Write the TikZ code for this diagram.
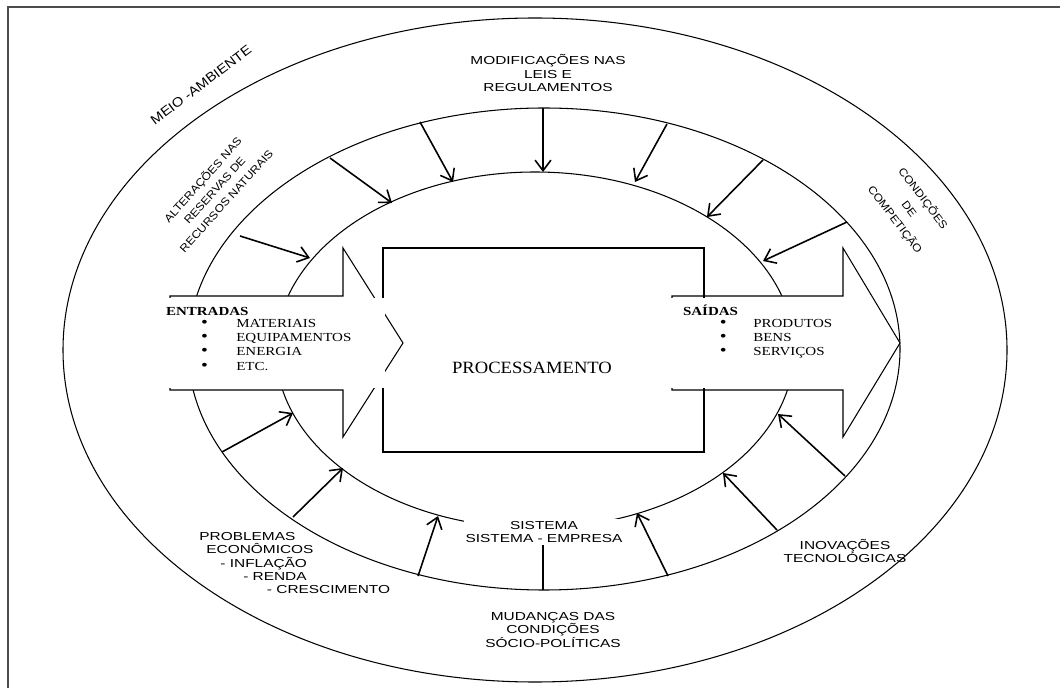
\documentclass[tikz,border=0pt]{standalone}
\usepackage{fontspec}
\newfontfamily\arialx{Liberation Sans}[FakeStretch=1.33]
\newfontfamily\ariale{Liberation Sans}[FakeStretch=1.12]
\newfontfamily\timesx{Liberation Serif}[FakeStretch=1.22]
\newfontfamily\timesb{Liberation Serif}[FakeStretch=1.08]
\usetikzlibrary{arrows.meta}

\begin{document}
\begin{tikzpicture}[x=0.02cm,y=0.02cm,
    ring/.style={line width=0.6pt},
    force/.style={line width=0.9pt,-{Straight Barb[length=6pt,width=9pt]}},
    flow/.style={draw,fill=white,line width=0.6pt},
    tag/.style={font=\arialx\fontsize{6.6}{7.6}\selectfont,align=center,inner sep=0pt},
    slant/.style={font=\ariale\fontsize{6.2}{9}\selectfont,align=center,inner sep=0pt},
    listbox/.style={font=\timesx\fontsize{7}{8.2}\selectfont,fill=white,inner sep=0pt}]

\useasboundingbox (0,0) rectangle (1060,-688);

% page frame (only top and left edge are inside the picture)
\draw[line width=1.1pt,black!70] (1060,-7) -- (8,-7) -- (8,-688);

% environment, system and company rings
\draw[ring] (535,-350) ellipse (472 and 332);
\draw[ring] (544,-349) ellipse (356 and 241);
\draw[ring] (535,-350) ellipse (259 and 178);

% pressures of the environment on the company
\foreach \xa/\ya/\xb/\yb in {240/236/310/258, 330/158/392/203, 420/122/453/182,
    543/108/543/172, 667/124/635/182, 763/160/707/217, 847/222/763/261,
    222/452/293/413, 293/517/343/468, 418/576/438/516, 543/590/543/528,
    668/576/637/513, 777/530/723/473, 845/476/778/414}
  \draw[force] (\xa,-\ya) -- (\xb,-\yb);

% input and output arrows
\draw[flow] (170,-296) -- (343,-296) -- (343,-248) -- (403,-343) -- (343,-437) -- (343,-390) -- (170,-390) -- cycle;
\draw[flow] (672,-296) -- (843,-296) -- (843,-248) -- (900,-343) -- (843,-437) -- (843,-390) -- (672,-390) -- cycle;

% processing box
\draw[ring] (383,-248) rectangle (704,-452);
\node[font=\timesb\fontsize{9.8}{11}\selectfont,inner sep=0pt] (proc) at (532,-368) {PROCESSAMENTO};

% lists of inputs and outputs (white boxes hide the lines under them)
\node[listbox] (entradas) at (275.5,-343) {\parbox[c][1.8cm][t]{4.38cm}{%
  \rule{0pt}{10pt}\textbf{ENTRADAS}\\[-1.6pt]
  \hspace*{20pt}\makebox[20pt][l]{\scalebox{1.3}{\textbullet}}MATERIAIS\\
  \hspace*{20pt}\makebox[20pt][l]{\scalebox{1.3}{\textbullet}}EQUIPAMENTOS\\
  \hspace*{20pt}\makebox[20pt][l]{\scalebox{1.3}{\textbullet}}ENERGIA\\
  \hspace*{20pt}\makebox[20pt][l]{\scalebox{1.3}{\textbullet}}ETC.}};
\node[listbox] (saidas) at (756,-343) {\parbox[c][1.8cm][t]{3.44cm}{%
  \rule{0pt}{10pt}\hspace*{7.4pt}\textbf{SAÍDAS}\\[-1.6pt]
  \hspace*{28.4pt}\makebox[19pt][l]{\scalebox{1.3}{\textbullet}}PRODUTOS\\
  \hspace*{28.4pt}\makebox[19pt][l]{\scalebox{1.3}{\textbullet}}BENS\\
  \hspace*{28.4pt}\makebox[19pt][l]{\scalebox{1.3}{\textbullet}}SERVIÇOS}};

% forces written round the rings
\node[tag] (leis) at (548,-73) {MODIFICAÇÕES NAS\\LEIS E\\REGULAMENTOS};
\node[tag,fill=white,inner sep=1pt] (sistema) at (544,-532) {SISTEMA\\SISTEMA - EMPRESA};
\node[tag,align=left,anchor=north west] (econ) at (199,-532) {PROBLEMAS\\\hspace*{4pt}ECONÔMICOS\\\hspace*{12pt}- INFLAÇÃO\\\hspace*{25pt}- RENDA\\\hspace*{38.5pt}- CRESCIMENTO};
\node[tag] (social) at (553,-630) {MUDANÇAS DAS\\CONDIÇÕES\\SÓCIO-POLÍTICAS};
\node[tag] (tecno) at (845,-551) {INOVAÇÕES\\TECNOLÓGICAS};

% slanted labels
\node[slant,font=\ariale\fontsize{7.5}{9}\selectfont,rotate=37] (meio) at (201,-85) {MEIO -AMBIENTE};
\node[slant,rotate=48] (recursos) at (214,-190) {ALTERAÇÕES NAS\\RESERVAS DE\\RECURSOS NATURAIS};
\node[slant,font=\ariale\fontsize{6.2}{10}\selectfont,rotate=-53] (compet) at (909,-209) {CONDIÇÕES\\DE\\COMPETIÇÃO};

\end{tikzpicture}
\end{document}
